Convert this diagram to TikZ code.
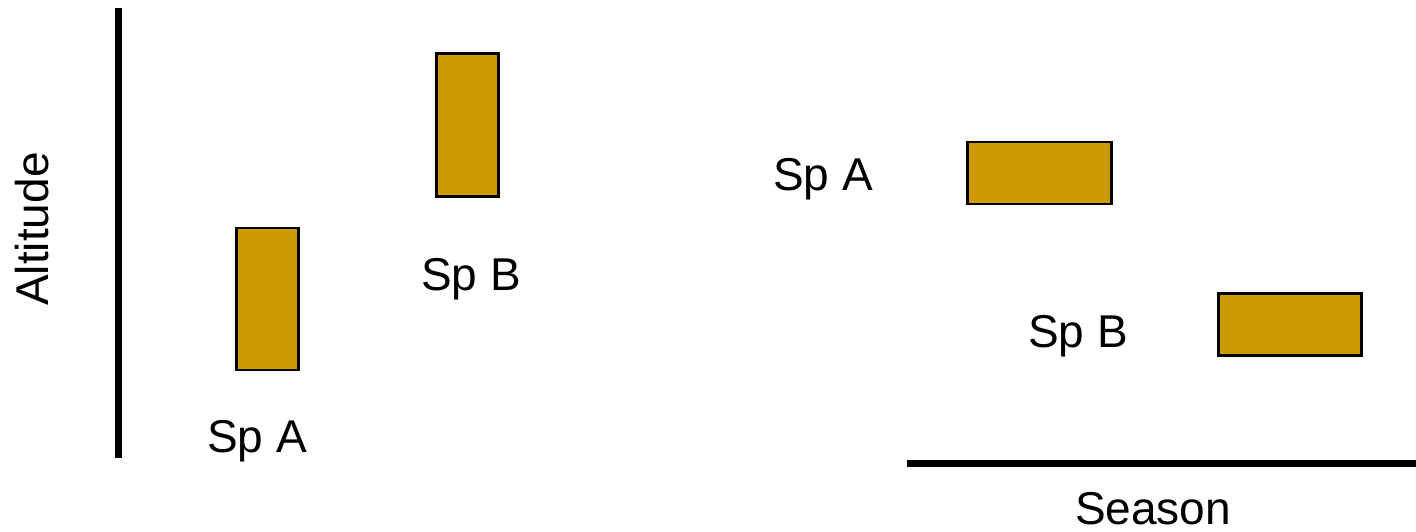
\documentclass[tikz,border=0pt]{standalone}
\usepackage{fontspec}
\setmainfont{Liberation Sans}
\begin{document}
\begin{tikzpicture}[x=1pt,y=-1pt,
  bar/.style={draw=black, line width=2.6pt, fill=barfill, inner sep=0pt, outer sep=0pt},
  lbl/.style={anchor=base, inner sep=0pt, font=\fontsize{46}{55}\selectfont},
  axisline/.style={line width=7.5pt}]
\definecolor{barfill}{HTML}{CC9900}
\useasboundingbox (0,0) rectangle (1416,532);

% altitude panel
\coordinate (ytop) at (118.5,8);
\coordinate (ybot) at (118.5,458);
\draw[axisline] (ytop) -- (ybot);
\node[lbl, rotate=90] (alt) at (48,229) {Altitude};
\node[bar, minimum width=62pt, minimum height=142pt] (altA) at (267.5,299) {};
\node[bar, minimum width=62pt, minimum height=143pt] (altB) at (467.5,125) {};
\node[lbl] (altAl) at (257,452) {Sp A};
\node[lbl] (altBl) at (471,290) {Sp B};

% season panel
\coordinate (xleft) at (907,463.5);
\coordinate (xright) at (1416,463.5);
\draw[axisline] (xleft) -- (xright);
\node[lbl, text depth=0pt] (sea) at (1153,524) {Season};
\node[bar, minimum width=144pt, minimum height=62pt] (seaA) at (1039.5,173) {};
\node[bar, minimum width=143pt, minimum height=62pt] (seaB) at (1290,324.5) {};
\node[lbl] (seaAl) at (823,190) {Sp A};
\node[lbl] (seaBl) at (1078,347) {Sp B};
\end{tikzpicture}
\end{document}
